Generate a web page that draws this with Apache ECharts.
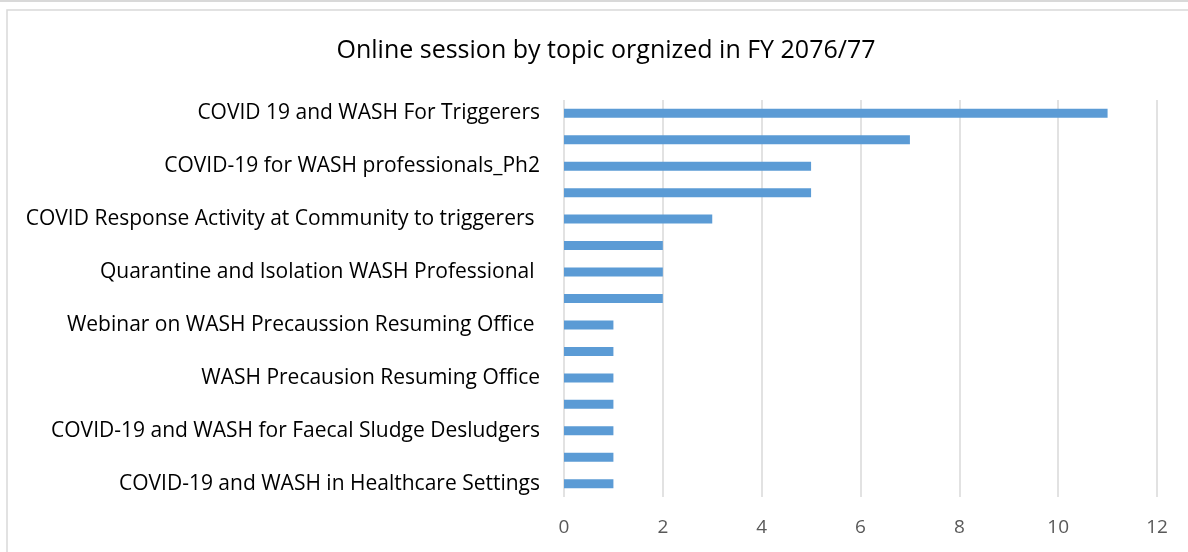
<!DOCTYPE html>
<html>
<head>
<meta charset="utf-8">
<script src="https://cdn.jsdelivr.net/npm/echarts@6/dist/echarts.min.js"></script>
<style>
  html, body { margin: 0; padding: 0; background: #fff; }
  #chart { width: 1188px; height: 552px; }
</style>
</head>
<body>
<div id="chart"></div>
<script>
// categories, bottom to top (only every other label is printed in the original)
var topics = [
  'COVID-19 and WASH in Healthcare Settings',
  'Session 14',
  'COVID-19 and WASH for Faecal Sludge Desludgers',
  'Session 12',
  'WASH Precausion Resuming Office',
  'Session 10',
  'Webinar on WASH Precaussion Resuming Office ',
  'Session 8',
  'Quarantine and Isolation WASH Professional ',
  'Session 6',
  'COVID Response Activity at Community to triggerers ',
  'Session 4',
  'COVID-19 for WASH professionals_Ph2',
  'Session 2',
  'COVID 19 and WASH For Triggerers'
];
var sessions = [1, 1, 1, 1, 1, 1, 1, 2, 2, 2, 3, 5, 5, 7, 11];
var xTicks = [0, 2, 4, 6, 8, 10, 12];

var chart = echarts.init(document.getElementById('chart'));
chart.setOption({
  animation: false,
  textStyle: { fontFamily: 'Open Sans' },
  title: {
    text: 'Online session by topic orgnized in FY 2076/77',
    left: 601,
    textAlign: 'center',
    top: 33,
    textStyle: { fontSize: 25, fontWeight: 'normal', color: '#000', fontFamily: 'Open Sans' }
  },
  graphic: [
    { type: 'rect', shape: { x: 0, y: 0, width: 1188, height: 2 }, style: { fill: '#d9d9d9' } },
    { type: 'rect', shape: { x: 7, y: 10, width: 1200, height: 560 },
      style: { fill: 'none', stroke: '#d9d9d9', lineWidth: 1.5 } }
  ],
  grid: { left: 564, right: 31, top: 100, bottom: 55 },
  xAxis: {
    type: 'value',
    min: xTicks[0],
    max: xTicks[xTicks.length - 1],
    interval: 2,
    axisLine: { show: false },
    axisTick: { show: false },
    axisLabel: { color: '#595959', fontSize: 19, margin: 21 },
    splitLine: { lineStyle: { color: '#d9d9d9', width: 1.5 } }
  },
  yAxis: {
    type: 'category',
    data: topics,
    axisLine: { show: false },
    axisTick: { show: false },
    axisLabel: { interval: 1, color: '#000', fontSize: 21, margin: 24 }
  },
  series: [{
    type: 'bar',
    data: sessions,
    barWidth: 9,
    itemStyle: { color: '#5b9bd5' }
  }]
});
</script>
</body>
</html>
